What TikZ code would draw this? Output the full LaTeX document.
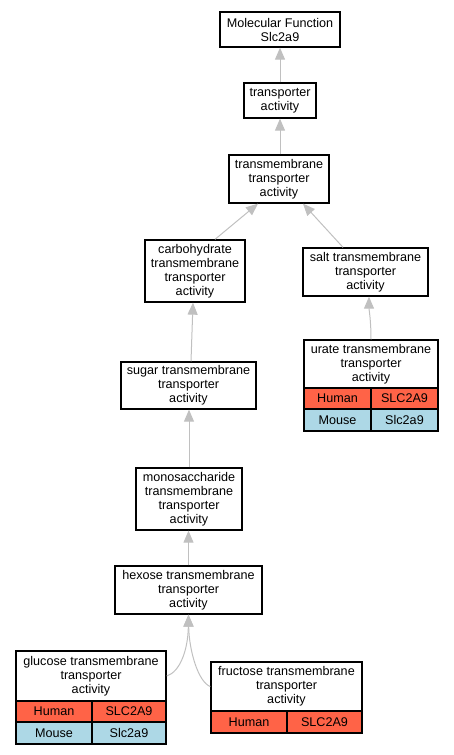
\documentclass[tikz,border=0pt]{standalone}
\usepackage{fontspec}
\setmainfont{Liberation Sans}
\usetikzlibrary{arrows.meta,calc}
\definecolor{human}{RGB}{255,99,71}
\definecolor{mouse}{RGB}{173,216,230}
\definecolor{edgegray}{RGB}{192,192,192}
\tikzset{
  box/.style={draw=black, line width=1.3pt, fill=white, inner sep=0pt, align=center,
    font=\fontsize{12.6}{14}\selectfont},
  cell/.style={box},
  hcell/.style={box, fill=human},
  mcell/.style={box, fill=mouse},
  edge/.style={draw=edgegray, line width=1pt, -{Triangle[length=12pt,width=10pt]}},
}
\begin{document}
\begin{tikzpicture}[x=1pt,y=-1pt]
\useasboundingbox (0,0) rectangle (453,755);
\node[box, minimum width=120pt, minimum height=35pt] (mf) at (280,29.5) {Molecular Function\\Slc2a9};
\node[box, minimum width=72pt, minimum height=35pt] (tr) at (280,100.5) {transporter\\activity};
\node[box, minimum width=100pt, minimum height=48pt] (tm) at (279,179) {transmembrane\\transporter\\activity};
\node[box, minimum width=100pt, minimum height=62pt] (carb) at (195,271) {carbohydrate\\transmembrane\\transporter\\activity};
\node[box, minimum width=125pt, minimum height=48pt] (salt) at (365.5,272) {salt transmembrane\\transporter\\activity};
% urate table
\node[box, minimum width=134pt, minimum height=48pt] (urate) at (371,364) {urate transmembrane\\transporter\\activity};
\node[hcell, minimum width=67pt, minimum height=21pt] (urateh) at (337.5,398.5) {Human};
\node[hcell, minimum width=67pt, minimum height=21pt] (urateg) at (404.5,398.5) {SLC2A9};
\node[mcell, minimum width=67pt, minimum height=22pt] (uratem) at (337.5,420) {Mouse};
\node[mcell, minimum width=67pt, minimum height=22pt] (uratemg) at (404.5,420) {Slc2a9};
\node[box, minimum width=135pt, minimum height=47pt] (sugar) at (188.5,385.5) {sugar transmembrane\\transporter\\activity};
\node[box, minimum width=106pt, minimum height=62pt] (mono) at (189,499) {monosaccharide\\transmembrane\\transporter\\activity};
\node[box, minimum width=147pt, minimum height=48pt] (hex) at (188.5,590) {hexose transmembrane\\transporter\\activity};
% glucose table
\node[box, minimum width=150pt, minimum height=50pt] (glu) at (91,676) {glucose transmembrane\\transporter\\activity};
\node[hcell, minimum width=76pt, minimum height=21pt] (gluh) at (54,711.5) {Human};
\node[hcell, minimum width=74pt, minimum height=21pt] (glug) at (129,711.5) {SLC2A9};
\node[mcell, minimum width=76pt, minimum height=22pt] (glum) at (54,733) {Mouse};
\node[mcell, minimum width=74pt, minimum height=22pt] (glumg) at (129,733) {Slc2a9};
% fructose table
\node[box, minimum width=151pt, minimum height=49pt] (fru) at (286.5,686.5) {fructose transmembrane\\transporter\\activity};
\node[hcell, minimum width=76pt, minimum height=22pt] (fruh) at (249,722) {Human};
\node[hcell, minimum width=75pt, minimum height=22pt] (frug) at (324.5,722) {SLC2A9};
% edges
\draw[edge] (tr.north) -- (mf.south);
\draw[edge] (tm.north -| tr.south) -- (tr.south);
\draw[edge] ([xshift=20pt]carb.north) -- ([xshift=-21pt]tm.south);
\draw[edge] ([xshift=-22.5pt]salt.north) -- ([xshift=24pt]tm.south);
\draw[edge] ([xshift=2.5pt]sugar.north) -- ([xshift=-2pt]carb.south);
\draw[edge] (urate.north) .. controls (371,320) and (369,310) .. ([xshift=3.5pt]salt.south);
\draw[edge] (mono.north) -- (mono.north |- sugar.south);
\draw[edge] (hex.north) -- (hex.north |- mono.south);
\draw[edge] (glu.east) .. controls (180,672) and (188,650) .. (hex.south);
\draw[edge] (fru.west) .. controls (198,682) and (189,650) .. (hex.south);
\end{tikzpicture}
\end{document}
